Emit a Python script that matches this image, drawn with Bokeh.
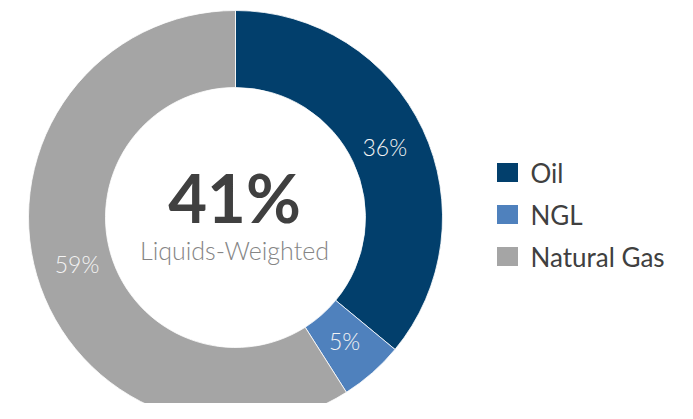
import numpy as np
from bokeh.plotting import figure
from bokeh.models import Range1d, ColumnDataSource
from bokeh.core.properties import value
from bokeh.embed import file_html
from bokeh.resources import INLINE

categories = ["Oil", "NGL", "Natural Gas"]
shares = [36, 5, 59]
colors = ["#023f6c", "#4f81bd", "#a5a5a5"]
center_value = "41%"
center_caption = "Liquids-Weighted"

W, H = 677, 403
p = figure(width=W, height=H, output_backend="svg", toolbar_location=None,
           x_range=Range1d(0, W), y_range=Range1d(0, H), min_border=0)
p.axis.visible = False
p.grid.visible = False
p.outline_line_color = None

cx, cy = 235, 186
r_in, r_out = 130, 207

frac = np.array(shares) / sum(shares)
cum = np.concatenate([[0], np.cumsum(frac)])
start = np.pi / 2 - cum[:-1] * 2 * np.pi
end = np.pi / 2 - cum[1:] * 2 * np.pi
mid = (start + end) / 2

src = ColumnDataSource(dict(start=start, end=end, color=colors,
                            lx=cx + 165 * np.cos(mid), ly=cy + 165 * np.sin(mid),
                            lab=[f"{s}%" for s in shares]))
p.annular_wedge(x=cx, y=cy, inner_radius=r_in, outer_radius=r_out,
                start_angle="start", end_angle="end", direction="clock",
                fill_color="color", line_color="white", line_width=0.8, source=src)
p.text(x="lx", y="ly", text="lab", source=src, text_color="#f4f4f4",
       text_font=value("Lato Light"), text_font_size="23px",
       text_align="center", text_baseline="middle")

p.text(x=[cx - 1], y=[cy + 21], text=[center_value], text_color="#404040",
       text_font=value("Lato"), text_font_style="bold", text_font_size="67px",
       text_align="center", text_baseline="middle")
p.text(x=[cx - 1], y=[cy - 32], text=[center_caption], text_color="#858585",
       text_font=value("Lato Light"), text_font_size="25px",
       text_align="center", text_baseline="middle")

leg_y = [231 - 42 * i for i in range(len(categories))]
p.rect(x=[507] * len(categories), y=leg_y, width=21, height=19,
       fill_color=colors, line_color=None)
p.text(x=[530] * len(categories), y=leg_y, text=categories, text_color="#404040",
       text_font=value("Lato"), text_font_size="26px",
       text_align="left", text_baseline="middle")

open("out.html", "w").write(file_html(p, INLINE))
